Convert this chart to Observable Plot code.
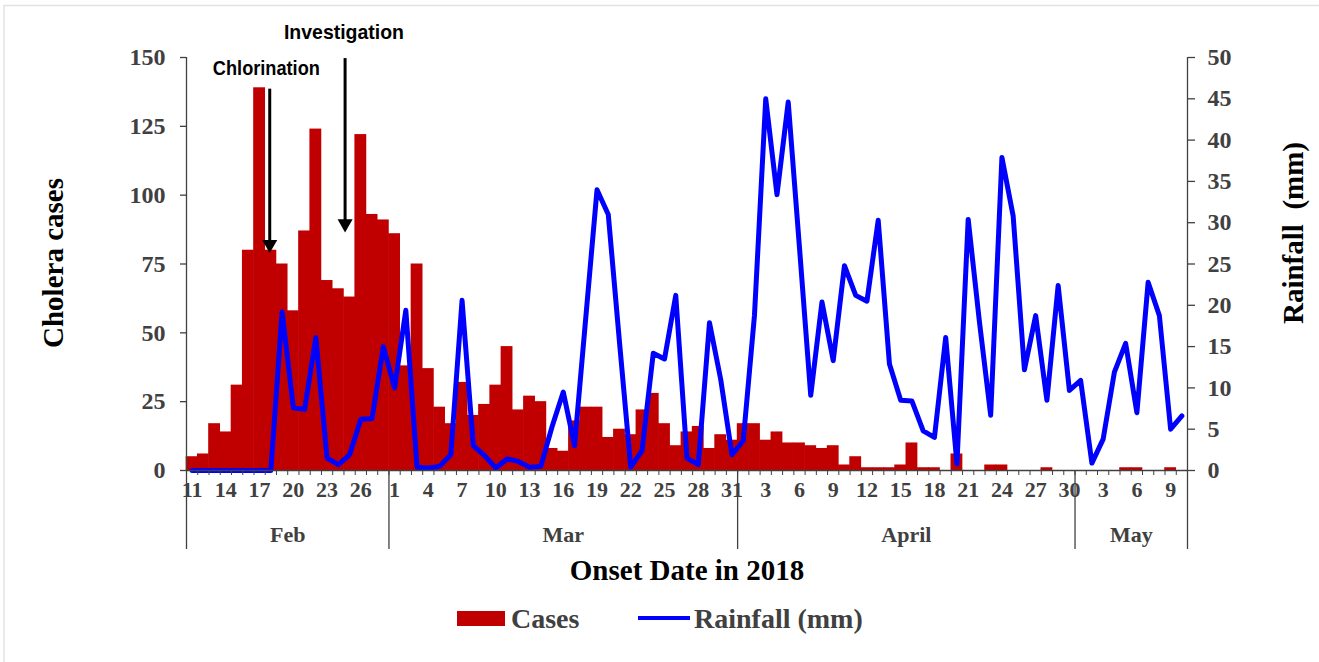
<!DOCTYPE html>
<html><head><meta charset="utf-8">
<script src="https://cdn.jsdelivr.net/npm/d3@7"></script>
<script src="https://cdn.jsdelivr.net/npm/@observablehq/plot@0.6"></script>
<style>
html,body{margin:0;padding:0;background:#fff;}
#chart{position:relative;width:1319px;height:662px;overflow:hidden;}
</style></head><body><div id="chart"></div>
<script>
// ---- categories ----
const monthNames = ["Feb", "Mar", "April", "May"];
const monthFirstDay = [11, 1, 1, 1];
const monthLastDay = [28, 31, 30, 10];

// ---- series: daily cholera cases (Feb 11 – May 10, 2018) ----
const cases = [
  5, 6, 17, 14, 31, 80, 139, 80, 75, 58, 87, 124, 69, 66, 63, 122, 93, 91,
  86, 38, 75, 37, 23, 17, 32, 20, 24, 31, 45, 22, 27, 25, 8, 7, 18, 23, 23, 12, 15, 13, 22, 28, 17, 9, 14, 16, 8, 13, 11,
  17, 17, 11, 14, 10, 10, 9, 8, 9, 2, 5, 1, 1, 1, 2, 10, 1, 1, 0, 6, 0, 0, 2, 2, 0, 0, 0, 1, 0, 0,
  0, 0, 0, 0, 1, 1, 0, 0, 1, 0
];

// ---- series: daily rainfall (mm) ----
const rainfall = [
  0, 0, 0, 0, 0, 0, 0, 0, 19.2, 7.6, 7.4, 16.1, 1.5, 0.7, 1.9, 6.2, 6.3, 15,
  10, 19.4, 0.4, 0.3, 0.5, 1.9, 20.6, 3, 1.8, 0.3, 1.4, 1.1, 0.4, 0.5, 5.3, 9.5, 3, 18.5, 34, 31, 15.5, 0.4, 2.4, 14.2, 13.5, 21.2, 1.5, 0.7, 17.9, 11, 1.9,
  3.6, 18.8, 45, 33.4, 44.6, 27, 9.1, 20.4, 13.3, 24.8, 21.2, 20.5, 30.3, 12.9, 8.5, 8.4, 4.8, 4, 16.1, 0.8, 30.4, 18, 6.7, 37.9, 30.8, 12.2, 18.75, 8.5, 22.4, 9.7,
  10.9, 0.9, 3.8, 11.9, 15.4, 7, 22.8, 18.75, 5, 6.6
];

// ---- tick labels ----
const xTickLabels = ["11","14","17","20","23","26","1","4","7","10","13","16","19","22","25","28","31","3","6","9","12","15","18","21","24","27","30","3","6","9"];
const yCaseTicks = [0, 25, 50, 75, 100, 125, 150];
const yRainTicks = [0, 5, 10, 15, 20, 25, 30, 35, 40, 45, 50];

// ---- annotations (x in day index units, y in cases units) ----
const annotations = [
  {label: "Chlorination", x: 7.4, top: 138.5, tip: 79, textX: 7.1, textY: 146, width: 107},
  {label: "Investigation", x: 14.1, top: 149.6, tip: 86.5, textX: 14.0, textY: 159, width: 120}
];

// ---- build table ----
const days = [];
monthNames.forEach((m, k) => { for (let d = monthFirstDay[k]; d <= monthLastDay[k]; d++) days.push({month: m, day: d}); });
const table = days.map((d, i) => ({i, month: d.month, day: d.day, cases: cases[i], rain: rainfall[i]}));
const n = table.length;
const monthSpans = monthNames.map(m => {
  const idx = table.filter(d => d.month === m).map(d => d.i);
  return {name: m, start: idx[0], end: idx[idx.length - 1] + 1};
});
const boundaries = [0, ...monthSpans.map(s => s.end)];
const tickData = xTickLabels.map((label, k) => ({pos: 3 * k + 0.5, label}));
const K = yCaseTicks[yCaseTicks.length - 1] / yRainTicks[yRainTicks.length - 1];

const serif = '"Liberation Serif", "Times New Roman", Times, serif';
const narrow = '"Liberation Sans Narrow", "Arial Narrow", "Liberation Sans", Arial, sans-serif';
const axisColor = "#404040";

const plot = Plot.plot({
  width: 1319, height: 662,
  marginLeft: 186, marginRight: 132, marginTop: 57, marginBottom: 192,
  x: {domain: [0, n], label: null},
  y: {domain: [0, 150], label: null},
  style: {fontFamily: serif, fontWeight: "bold", fontSize: "22px", color: axisColor, background: "white"},
  marks: [
    Plot.rectY(table, {x1: "i", x2: d => d.i + 1, y: "cases", fill: "#C00000", insetLeft: -0.3, insetRight: -0.3}),
    Plot.line(table, {x: d => d.i + 0.5, y: d => d.rain * K, stroke: "#0000FF", strokeWidth: 5, strokeLinejoin: "round", strokeLinecap: "round"}),
    Plot.ruleY([0], {stroke: axisColor, strokeWidth: 1.3}),
    Plot.ruleX([0, n], {y1: 0, y2: 150, stroke: axisColor, strokeWidth: 1.3}),
    Plot.axisX(d3.range(0, n + 1), {anchor: "bottom", tickSize: 5, tickFormat: () => "", label: null, stroke: axisColor}),
    Plot.axisX(boundaries, {anchor: "bottom", tickSize: 79, tickFormat: () => "", label: null, stroke: axisColor, strokeWidth: 1.3}),
    Plot.text(tickData, {x: "pos", text: "label", frameAnchor: "bottom", dy: 26, fontSize: 22, fill: axisColor}),
    Plot.text(monthSpans, {x: d => (d.start + d.end) / 2, text: "name", frameAnchor: "bottom", dy: 71, fontSize: 22, fill: axisColor}),
    Plot.axisY(yCaseTicks, {anchor: "left", tickSize: 6, tickPadding: 15, fontSize: 24, label: null, stroke: axisColor, strokeWidth: 1.3}),
    Plot.axisY(yRainTicks.map(v => v * K), {anchor: "right", tickSize: 7, tickPadding: 13, fontSize: 24, label: null, tickFormat: d => Math.round(d / K), stroke: axisColor, strokeWidth: 1.3}),
    Plot.text(["Cholera cases"], {text: d => d, frameAnchor: "left", textAnchor: "middle", dx: -133, dy: -1, rotate: -90, fontSize: 29, fill: "black"}),
    Plot.text(["Rainfall\u00A0 (mm)"], {text: d => d, frameAnchor: "right", textAnchor: "middle", dx: 106, dy: -31, rotate: -90, fontSize: 29, fill: "black"}),
    Plot.text(["Onset Date in 2018"], {text: d => d, frameAnchor: "bottom", dy: 109, fontSize: 29, fill: "black"}),
    Plot.ruleX(annotations, {x: "x", y1: "top", y2: "tip", insetBottom: 10, stroke: "black", strokeWidth: 3}),
    Plot.dot(annotations, {x: "x", y: "tip", symbol: "triangle", r: 5.6, rotate: 180, fill: "black", stroke: null, dy: -8.66}),
    Plot.text(annotations, {x: "textX", y: "textY", text: "label", fontFamily: narrow, fontSize: 21, fill: "black", className: "annot"})
  ]
});

const svg = d3.select(plot);
// squeeze annotation labels to the narrow width of the original
svg.selectAll(".annot text").each(function() {
  const a = annotations.find(a => a.label === this.textContent);
  if (a) d3.select(this).attr("textLength", a.width).attr("lengthAdjust", "spacingAndGlyphs");
});
// light frame edges
svg.append("path").attr("d", "M4,662V5.5H1319").attr("fill", "none").attr("stroke", "#e2e2e2").attr("stroke-width", 1.5);
// legend
const lg = svg.append("g").attr("font-family", serif).attr("font-weight", "bold").attr("font-size", 28).attr("fill", axisColor).attr("text-anchor", "start");
lg.append("rect").attr("x", 457).attr("y", 611).attr("width", 48).attr("height", 15).attr("fill", "#C00000");
lg.append("text").attr("x", 511).attr("y", 628).text("Cases");
lg.append("line").attr("x1", 638).attr("x2", 690).attr("y1", 618).attr("y2", 618).attr("stroke", "#0000FF").attr("stroke-width", 4);
lg.append("text").attr("x", 694).attr("y", 628).text("Rainfall (mm)");

document.getElementById("chart").appendChild(plot);
</script></body></html>
